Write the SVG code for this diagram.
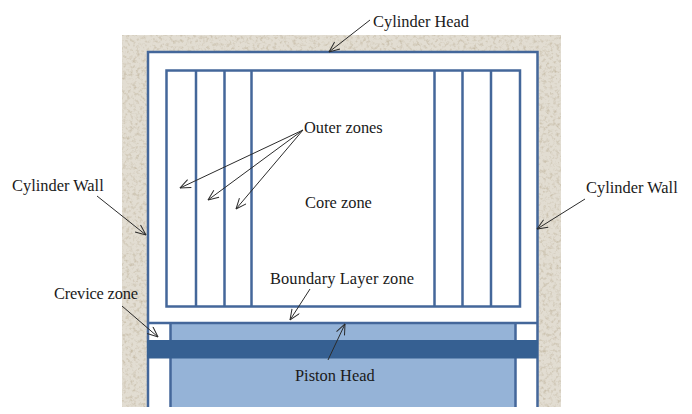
<svg xmlns="http://www.w3.org/2000/svg" width="692" height="414" viewBox="0 0 692 414">
  <defs>
    <filter id="sand" x="0" y="0" width="100%" height="100%" color-interpolation-filters="sRGB">
      <feTurbulence type="fractalNoise" baseFrequency="0.3" numOctaves="3" seed="7" result="n"/>
      <feColorMatrix in="n" type="matrix" values="0 0 0 0 0.78  0 0 0 0 0.74  0 0 0 0 0.66  2.4 0 0 0 -1.15" result="speck"/>
      <feComposite in="speck" in2="SourceGraphic" operator="in" result="clipped"/>
      <feMerge><feMergeNode in="SourceGraphic"/><feMergeNode in="clipped"/></feMerge>
    </filter>
    <marker id="open" viewBox="0 0 12 10" refX="11.5" refY="5" markerWidth="12" markerHeight="10" markerUnits="userSpaceOnUse" orient="auto">
      <path d="M1 0.6 L11.5 5 L1 9.4" fill="none" stroke="#2b2b2b" stroke-width="1"/>
    </marker>
  </defs>
  <style>
    text { font-family: "Liberation Serif", "Times New Roman", serif; font-size: 16.4px; fill: #1a1a1a; }
    .ln { fill: none; stroke: #44679a; stroke-width: 2.5; }
    .ar { fill: none; stroke: #2b2b2b; stroke-width: 1; marker-end: url(#open); }
  </style>
  <rect width="692" height="414" fill="#ffffff"/>
  <g id="cylinder-wall">
    <rect x="122" y="35" width="439" height="372" fill="#e2ddd2" filter="url(#sand)"/>
    <path d="M148 407 V52 H537.5 V407 Z" fill="#ffffff" stroke="none"/>
    <path class="ln" d="M148 407 V52 H537.5 V407"/>
  </g>
  <g id="zones">
    <rect class="ln" x="166.5" y="70.5" width="353.5" height="236"/>
    <path class="ln" d="M196 70.5 V306.5 M224.5 70.5 V306.5 M251.5 70.5 V306.5 M434.5 70.5 V306.5 M462.5 70.5 V306.5 M491 70.5 V306.5"/>
  </g>
  <g id="piston">
    <rect x="170.500" y="323" width="345" height="84" fill="#95b3d7"/>
    <path class="ln" d="M170.500 407 V323 M515.500 407 V323 M148 323 H537.500"/>
    <rect x="147" y="340" width="391" height="18.500" fill="#366092"/>
  </g>
  <g id="connectors">
    <line class="ar" x1="370" y1="20" x2="329" y2="52"/>
    <line class="ar" x1="303" y1="130" x2="180" y2="188"/>
    <line class="ar" x1="303" y1="130" x2="208" y2="200"/>
    <line class="ar" x1="303" y1="130" x2="236" y2="209"/>
    <line class="ar" x1="97" y1="196" x2="146" y2="235"/>
    <line class="ar" x1="585" y1="199" x2="537" y2="229"/>
    <line class="ar" x1="122" y1="306" x2="158" y2="337"/>
    <line class="ar" x1="310" y1="289" x2="290" y2="320"/>
    <line class="ar" x1="328" y1="360" x2="345" y2="324"/>
  </g>
  <g id="labels">
    <text x="373" y="27">Cylinder Head</text>
    <text x="304" y="132.500">Outer zones</text>
    <text x="305" y="208">Core zone</text>
    <text x="12" y="191">Cylinder Wall</text>
    <text x="586" y="193">Cylinder Wall</text>
    <text x="270" y="284" textLength="144">Boundary Layer zone</text>
    <text x="54" y="299" textLength="84">Crevice zone</text>
    <text x="295" y="381">Piston Head</text>
  </g>
</svg>
